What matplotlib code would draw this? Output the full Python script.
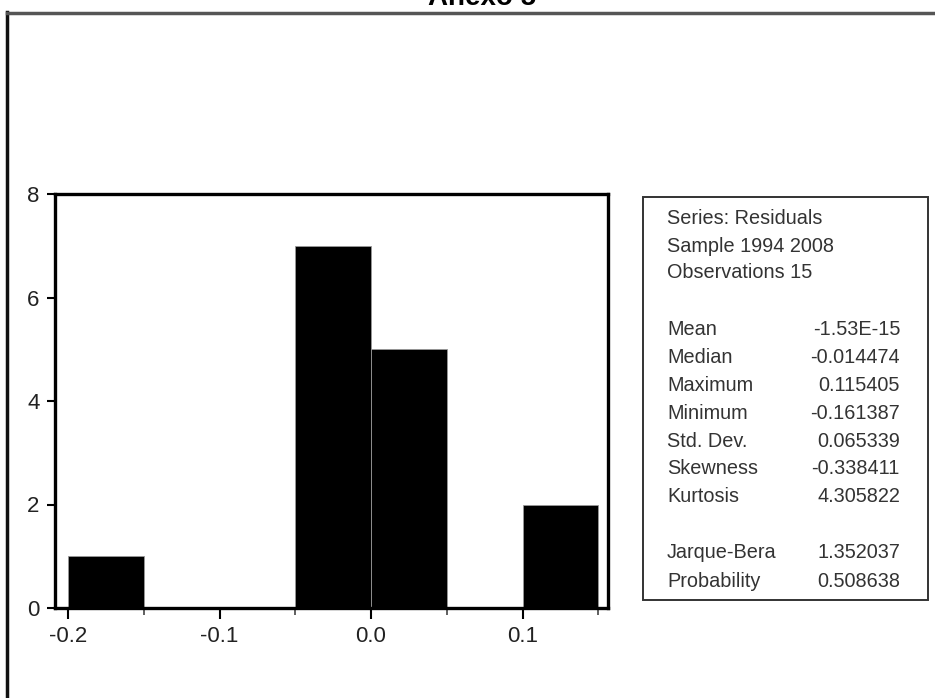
import matplotlib.pyplot as plt
from matplotlib.patches import Rectangle
from matplotlib.lines import Line2D
import numpy as np

# histogram bins (residuals) and counts
bin_edges = [-0.20, -0.15, -0.10, -0.05, 0.00, 0.05, 0.10, 0.15]
counts = [1, 0, 0, 7, 5, 0, 2]

header_lines = ["Series: Residuals", "Sample 1994 2008", "Observations 15"]
stat_names = ["Mean", "Median", "Maximum", "Minimum", "Std. Dev.", "Skewness", "Kurtosis"]
stat_values = ["-1.53E-15", "-0.014474", "0.115405", "-0.161387", "0.065339", "-0.338411", "4.305822"]
test_names = ["Jarque-Bera", "Probability"]
test_values = ["1.352037", "0.508638"]

W, H = 935, 698
plt.rcParams['font.family'] = ['Liberation Sans', 'DejaVu Sans']
fig = plt.figure(figsize=(W / 100, H / 100), dpi=100)

# title, cut at top like the scan
fig.text(482 / W, 1 - 5 / H, "Anexo 5", ha="center", va="baseline",
         fontsize=20, fontweight="bold", color="black")

# outer frame (left and top lines)
fig.add_artist(Line2D([7 / W, 7 / W], [0, 1 - 12 / H], transform=fig.transFigure,
                      color="#111111", lw=2.5))
fig.add_artist(Line2D([7 / W, 1], [1 - 12.5 / H, 1 - 12.5 / H], transform=fig.transFigure,
                      color="#555555", lw=2.5))

ax = fig.add_axes([55 / W, 1 - 608 / H, (608 - 55) / W, (608 - 194) / H])
widths = np.diff(bin_edges)
ax.bar(bin_edges[:-1], counts, width=widths, align="edge", color="black",
       edgecolor="#999999", linewidth=0.6)
ax.set_xlim(-0.2086, 0.1564)
ax.set_ylim(0, 8)
ax.set_xticks([-0.2, -0.1, 0.0, 0.1])
ax.set_xticklabels(["-0.2", "-0.1", "0.0", "0.1"])
ax.set_xticks([-0.15, -0.05, 0.05, 0.15], minor=True)
ax.set_yticks([0, 2, 4, 6, 8])
ax.tick_params(axis="both", direction="out", length=6, width=1.5, labelsize=16,
               colors="black", labelcolor="#222222", pad=5)
ax.tick_params(axis="x", which="major", length=8)
ax.tick_params(axis="x", which="minor", direction="out", length=5, width=1.2,
               color="#444444")
for s in ax.spines.values():
    s.set_linewidth(2.4)
    s.set_color("black")

# statistics box
bx0, by0, bx1, by1 = 643, 197, 928, 600
fig.add_artist(Rectangle((bx0 / W, 1 - by1 / H), (bx1 - bx0) / W, (by1 - by0) / H,
                         transform=fig.transFigure, fill=False,
                         edgecolor="#333333", lw=1.4))

txt_kw = dict(fontsize=14.3, color="#333333", va="center")
lx, rx = 667, 900
for i, line in enumerate(header_lines):
    fig.text(lx / W, 1 - (219 + i * 27) / H, line, ha="left", **txt_kw)
for i, (n, v) in enumerate(zip(stat_names, stat_values)):
    y = 1 - (330 + i * 27.8) / H
    fig.text(lx / W, y, n, ha="left", **txt_kw)
    fig.text(rx / W, y, v, ha="right", **txt_kw)
for i, (n, v) in enumerate(zip(test_names, test_values)):
    y = 1 - (553 + i * 28.5) / H
    fig.text(lx / W, y, n, ha="left", **txt_kw)
    fig.text(rx / W, y, v, ha="right", **txt_kw)

fig.savefig("out.png", dpi=100)
